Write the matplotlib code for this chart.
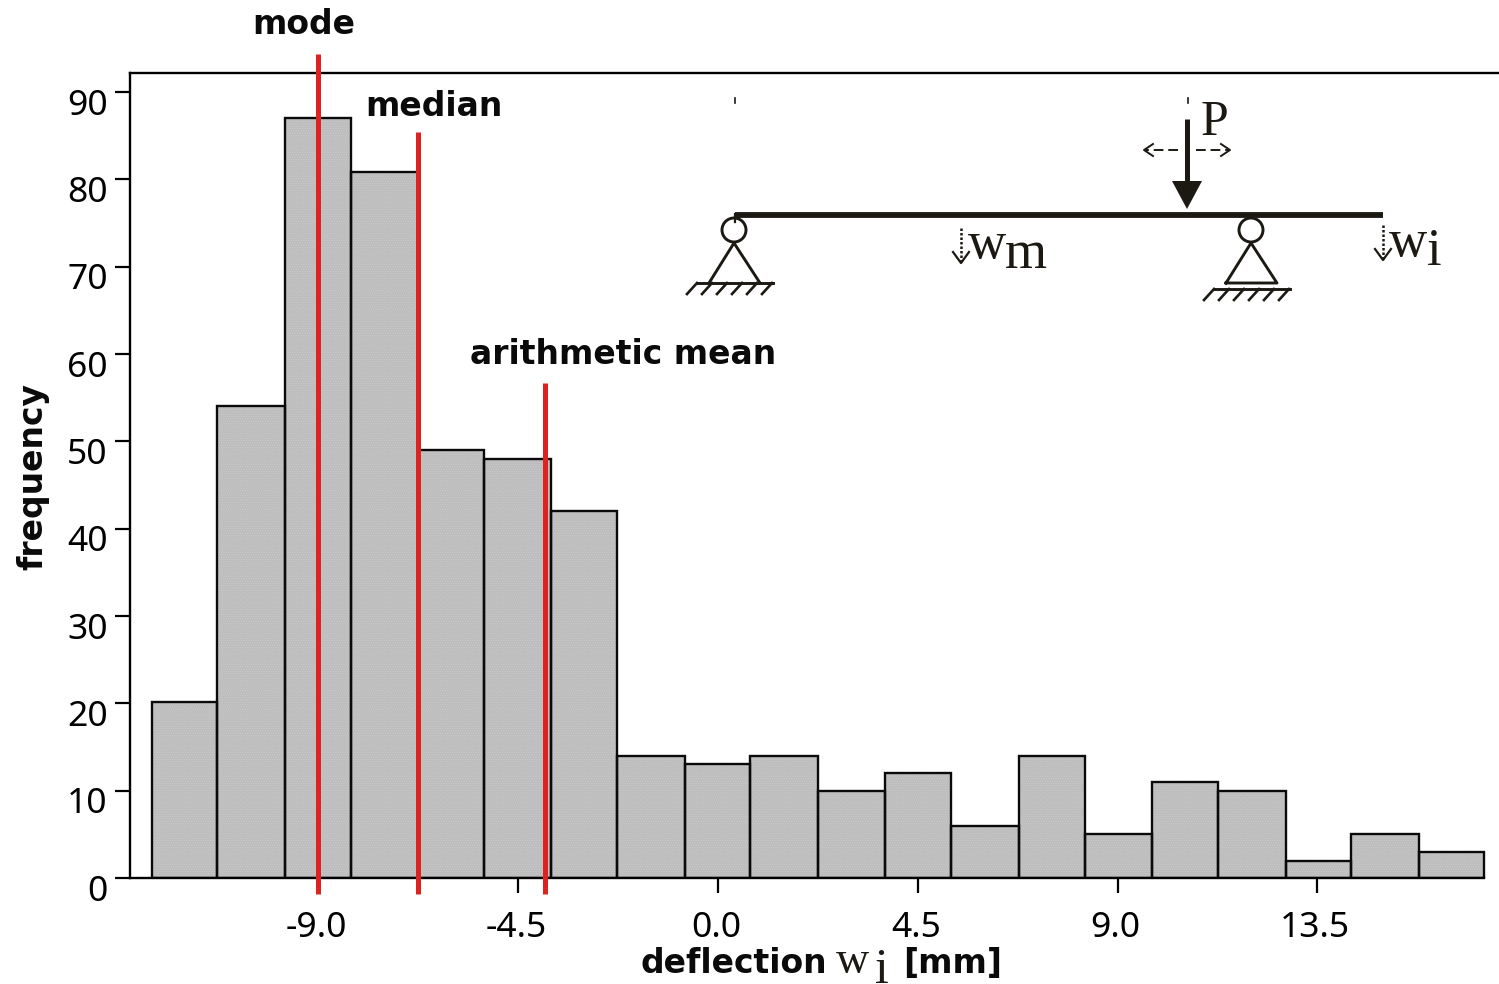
import matplotlib
matplotlib.use('Agg')
import matplotlib.pyplot as plt
import matplotlib.patches as mpatches
from matplotlib.transforms import ScaledTranslation

# histogram data
bin_edges = [-12.75, -11.28, -9.75, -8.27, -6.76, -5.27, -3.76, -2.27, -0.74, 0.72,
             2.25, 3.76, 5.25, 6.78, 8.27, 9.77, 11.26, 12.79, 14.26, 15.79, 17.25]
counts = [20.1, 54, 87, 80.8, 49, 48, 42, 14, 13, 14, 10, 12, 6, 14, 5, 11, 10, 2, 5, 3]
x_ticks = [-9.0, -4.5, 0.0, 4.5, 9.0, 13.5]
x_tick_labels = ['-9.0', '-4.5', '0.0', '4.5', '9.0', '13.5']
y_ticks = [0, 10, 20, 30, 40, 50, 60, 70, 80, 90]

# statistics lines
stat_names = ['mode', 'median', 'arithmetic mean']
stat_values = [-9.02, -6.76, -3.9]
stat_tops = [94.3, 85.4, 56.7]

W, H = 1499, 984
fig = plt.figure(figsize=(W / 100, H / 100), dpi=100)
ax = fig.add_axes([130 / W, 1 - 878 / H, (W - 130) / W, (878 - 73) / H])
ax.set_xlim((130 - 718) / 44.4, (W - 718) / 44.4)
ax.set_ylim(0, 805 / 8.733)

widths = [b - a for a, b in zip(bin_edges[:-1], bin_edges[1:])]
plt.rcParams['hatch.linewidth'] = 0.5
ax.bar(bin_edges[:-1], counts, width=widths, align='edge', color='#bdbdbd',
       edgecolor='#cacaca', hatch='.......', linewidth=0)
ax.bar(bin_edges[:-1], counts, width=widths, align='edge', fill=False,
       edgecolor='#0a0a0a', linewidth=1.7)

for v, top in zip(stat_values, stat_tops):
    ax.plot([v, v], [-1.8, top], color='#dc2320', lw=3.6, solid_capstyle='butt',
            clip_on=False, zorder=5)

ax.spines['right'].set_visible(False)
for s in ['left', 'top', 'bottom']:
    ax.spines[s].set_linewidth(1.7)
ax.spines['bottom'].set_bounds(ax.get_xlim()[0], bin_edges[-1])

ax.set_xticks(x_ticks)
ax.set_xticklabels(x_tick_labels)
ax.set_yticks(y_ticks)
ax.tick_params(length=11, width=1.6, labelsize=25.5, pad=5)
for lab in ax.get_xticklabels() + ax.get_yticklabels():
    lab.set_family('Noto Sans')
ax.tick_params(axis='x', pad=13)
for lab in ax.get_yticklabels():
    lab.set_transform(lab.get_transform() + ScaledTranslation(0, -7 / 72, fig.dpi_scale_trans))
for lab in ax.get_xticklabels():
    lab.set_transform(lab.get_transform() + ScaledTranslation(-1.5 / 72, 0, fig.dpi_scale_trans))

# overlay in pixel coordinates for the beam sketch and the labels
ov = fig.add_axes([0, 0, 1, 1])
ov.set_xlim(0, W)
ov.set_ylim(H, 0)
ov.axis('off')
ov.patch.set_alpha(0)

ink = '#1c1812'
bold = dict(family='DejaVu Sans', weight='bold', fontsize=23.8, color='#0a0a0a')
serif = dict(family='Liberation Serif', color=ink)

ov.text(304, 25, stat_names[0], ha='center', va='center', **bold)
ov.text(434, 107, stat_names[1], ha='center', va='center', **bold)
ov.text(623, 355, stat_names[2], ha='center', va='center', **bold)
ov.text(33, 476, 'frequency', rotation=90, ha='center', va='center', **bold)
ov.text(641, 973, 'deflection', ha='left', va='baseline', **bold)
ov.text(903, 973, '[mm]', ha='left', va='baseline', **bold)
ov.text(836, 973, 'w', fontsize=33, ha='left', va='baseline', **serif)
ov.text(875, 983, 'i', fontsize=36, ha='left', va='baseline', **serif)

# beam
ov.plot([735, 1383], [214.5, 214.5], color=ink, lw=4.2, solid_capstyle='butt')
ov.plot([735, 735], [214, 222], color=ink, lw=1.6)
for x in [735, 1188]:
    ov.plot([x, x], [98, 103], color=ink, lw=1.2)


def support(cx, ground_y, closed):
    ov.add_patch(mpatches.Circle((cx, 230), 12, fill=False, ec=ink, lw=2.1))
    tri_x = [cx - 25, cx, cx + 26]
    tri_y = [283, 243, 283]
    if closed:
        tri_x = tri_x + [cx - 25]
        tri_y = tri_y + [283]
    ov.plot(tri_x, tri_y, color=ink, lw=2.1)
    left = cx - 37
    ov.plot([left, left + 76], [ground_y, ground_y], color=ink, lw=2.1)
    for k in range(6):
        x0 = left + 15 * k
        ov.plot([x0, x0 - 10], [ground_y, ground_y + 11], color=ink, lw=1.9)


support(734, 283, False)
support(1251, 289, True)

# load P
ov.plot([1187, 1187], [119, 183], color=ink, lw=3.6, solid_capstyle='butt')
ov.add_patch(mpatches.Polygon([(1172, 181), (1202, 181), (1187, 209)], color=ink, lw=0))
ov.text(1201, 135, 'P', fontsize=36, ha='left', va='baseline', **serif)
for x0, x1 in [(1178, 1144), (1196, 1230)]:
    ov.plot([x0, x1], [150, 150], color=ink, lw=1.4, ls=(0, (5, 2.5)))
    d = 9 if x1 < x0 else -9
    ov.plot([x1 + d, x1, x1 + d], [144, 150, 156], color=ink, lw=1.4)

# deflection arrows
for x, y0 in [(961, 228), (1383, 225)]:
    ov.plot([x, x], [y0, y0 + 34], color=ink, lw=1.8, ls=(0, (1, 0.8)))
    ov.plot([x - 8, x, x + 8], [y0 + 24, y0 + 35, y0 + 24], color=ink, lw=1.6)

ov.text(968, 258, 'w', fontsize=38, ha='left', va='baseline', **serif)
ov.text(1005, 268, 'm', fontsize=39, ha='left', va='baseline', **serif)
ov.text(1389, 256, 'w', fontsize=38, ha='left', va='baseline', **serif)
ov.text(1427, 265, 'i', fontsize=38, ha='left', va='baseline', **serif)

fig.savefig('out.png', dpi=100)
